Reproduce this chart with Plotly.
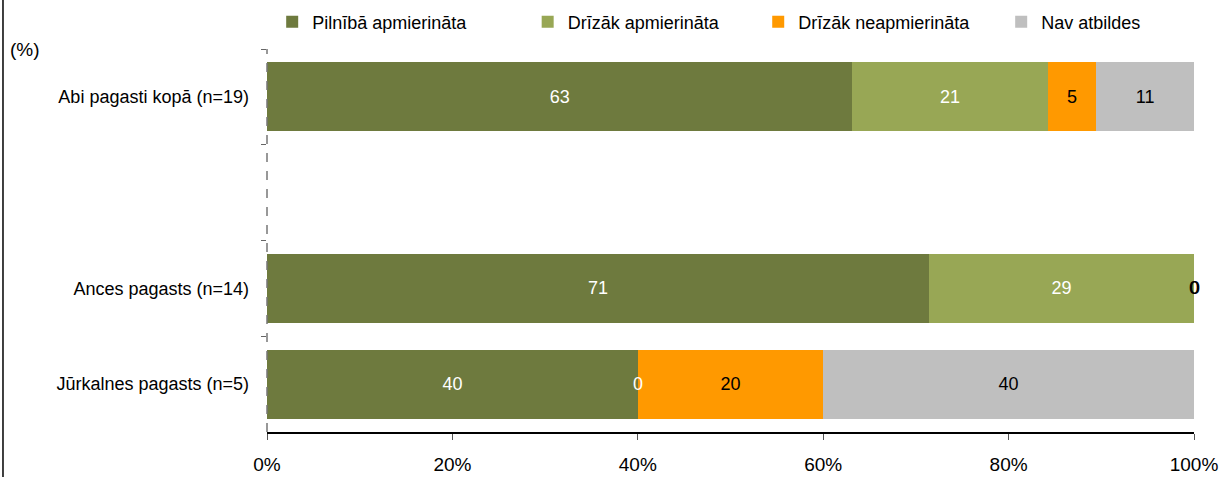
import plotly.graph_objects as go

categories = ["Abi pagasti kopā (n=19)", " ", "Ances pagasts (n=14)", "Jūrkalnes pagasts (n=5)"]
series_names = ["Pilnībā apmierināta", "Drīzāk apmierināta", "Drīzāk neapmierināta", "Nav atbildes"]
pilniba = [63.16, None, 71.43, 40.0]
drizak_apm = [21.05, None, 28.57, 0.0]
drizak_neapm = [5.26, None, 0.0, 20.0]
nav_atb = [10.53, None, 0.0, 40.0]
tick_vals = [0, 20, 40, 60, 80, 100]
tick_text = ["0%", "20%", "40%", "60%", "80%", "100%"]

colors = ["#6E7A3E", "#98A755", "#FF9900", "#BFBFBF"]
label_colors = ["white", "white", "black", "black"]
series = [pilniba, drizak_apm, drizak_neapm, nav_atb]

FONT = "Liberation Sans, Arial, sans-serif"

fig = go.Figure()
legend_ids = ["legend", "legend2", "legend3", "legend4"]
for i, (name, vals) in enumerate(zip(series_names, series)):
    texts = [("" if (v is None or v == 0) else f"{v:.0f}") for v in vals]
    fig.add_trace(go.Bar(
        y=categories, x=vals, name=name, orientation="h",
        marker=dict(color=colors[i], line=dict(width=0)),
        text=texts, textposition="inside", insidetextanchor="middle",
        textfont=dict(color=label_colors[i], size=18, family=FONT),
        textangle=0, constraintext="none",
        legend=legend_ids[i], hoverinfo="skip",
    ))

# zero-value labels, placed at cumulative position of that segment
annotations = []
for ci, cat in enumerate(categories):
    cum = 0.0
    for si, vals in enumerate(series):
        v = vals[ci]
        if v is None:
            continue
        if v == 0:
            annotations.append(dict(x=cum, y=cat, xref="x", yref="y", text="0",
                                    showarrow=False, xshift=(0.5 if si == 3 else 0),
                                    font=dict(color=label_colors[si], size=18, family=FONT)))
        cum += v

annotations.append(dict(x=-0.279, y=1.0, xref="paper", yref="paper", text="(%)",
                        showarrow=False, xanchor="left", yanchor="middle",
                        font=dict(size=19, color="black", family=FONT)))

legend_x = [0.0056, 0.2812, 0.5299, 0.792]
legend_layout = {}
for lid, lx in zip(legend_ids, legend_x):
    legend_layout[lid] = dict(x=lx, xref="paper", y=0.954, yref="container",
                              xanchor="left", yanchor="middle",
                              orientation="h", bgcolor="rgba(0,0,0,0)",
                              font=dict(size=18, color="black", family=FONT),
                              itemsizing="constant")

fig.update_layout(
    width=1221, height=477,
    margin=dict(l=267, r=27, t=49, b=45, autoexpand=False),
    barmode="stack", bargap=0.28,
    plot_bgcolor="white", paper_bgcolor="white",
    font=dict(family=FONT, size=18, color="black"),
    showlegend=True,
    annotations=annotations,
    uniformtext=dict(mode=False),
    xaxis=dict(range=[0, 100], tickvals=tick_vals, ticktext=tick_text,
               showgrid=False, zeroline=False, showline=True, linecolor="black",
               linewidth=1.5, ticks="outside", ticklen=6, tickcolor="#555555",
               ticklabelstandoff=8,
               tickfont=dict(size=19, family=FONT), automargin=False),
    yaxis=dict(categoryorder="array", categoryarray=categories, autorange="reversed",
               showgrid=False, zeroline=False, showline=False,
               ticks="outside", tickson="boundaries", ticklen=5, tickcolor="#666666",
               ticklabelstandoff=17, automargin=False,
               tickfont=dict(size=18, family=FONT)),
    shapes=[
        dict(type="line", xref="paper", yref="paper", x0=0, x1=0, y0=0, y1=1,
             line=dict(color="#777777", width=1.5, dash="dash")),
        dict(type="line", xref="paper", yref="paper", x0=-0.2848, x1=-0.2848,
             y0=-45/383, y1=1 + 49/383, line=dict(color="black", width=1.5)),
    ],
    **legend_layout,
)

fig.write_html(
    "out.html",
    config={"displayModeBar": False},
    post_script="document.body.style.margin='0';document.body.style.overflow='hidden';",
)
